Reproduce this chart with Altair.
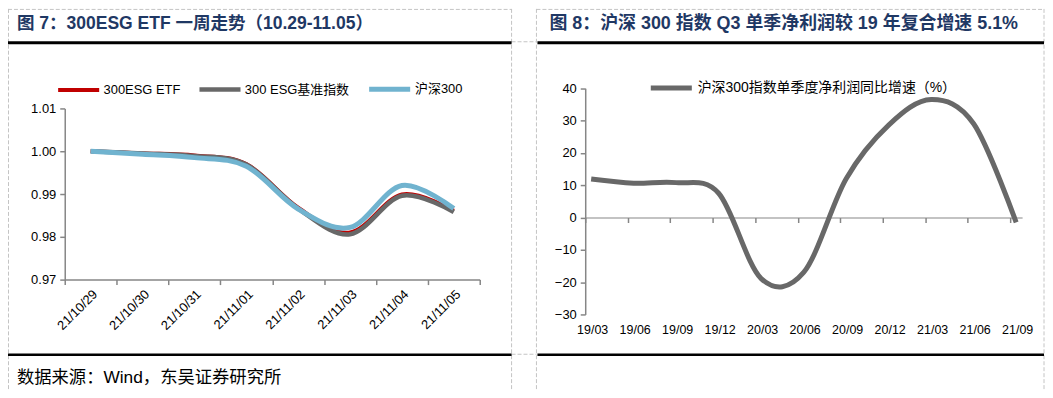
import altair as alt
import pandas as pd

# ---------------- data ----------------
dates = ["21/10/29", "21/10/30", "21/10/31", "21/11/01",
         "21/11/02", "21/11/03", "21/11/04", "21/11/05"]
etf = [1.0000, 0.9995, 0.9990, 0.9970, 0.9868, 0.9810, 0.9899, 0.9861]
esg_index = [1.0000, 0.9995, 0.9989, 0.9969, 0.9866, 0.9806, 0.9896, 0.9858]
hs300 = [1.0000, 0.9993, 0.9985, 0.9965, 0.9865, 0.9822, 0.9920, 0.9866]
left_series = ["300ESG ETF", "300 ESG基准指数", "沪深300"]
left_ticks = [0.97, 0.98, 0.99, 1.00, 1.01]

quarters = ["19/03", "19/06", "19/09", "19/12", "20/03", "20/06",
            "20/09", "20/12", "21/03", "21/06", "21/09"]
growth = [11.9, 10.6, 10.8, 7.5, -18.9, -17.0, 12.0, 28.6, 36.5, 29.0, -1.5]
right_series = "沪深300指数单季度净利润同比增速（%）"
right_ticks = [-30, -20, -10, 0, 10, 20, 30, 40]

title_left = "图 7：300ESG ETF 一周走势（10.29-11.05）"
title_right = "图 8：沪深 300 指数 Q3 单季净利润较 19 年复合增速 5.1%"
source_text = "数据来源：Wind，东吴证券研究所"

# ---------------- styles ----------------
W, H = 1042, 382
FONT = "Liberation Sans, Arial, Noto Sans CJK SC, sans-serif"
NAVY = "#1F3864"
GREY_AXIS = "#868686"
DASH_COLOR = "#C4C4C4"
left_colors = ["#C00000", "#686868", "#70B3CF"]
left_widths = [4, 5, 4.5]

left_df = pd.DataFrame({
    "date": dates * 3,
    "series": [s for s in left_series for _ in dates],
    "value": etf + esg_index + hs300,
})
right_df = pd.DataFrame({"quarter": quarters, "growth": growth,
                         "series": [right_series] * len(quarters)})

axis_common = dict(title=None, grid=False, domainColor=GREY_AXIS, tickColor=GREY_AXIS,
                   labelColor="#000000", labelFont=FONT)

left = alt.Chart(left_df).mark_line(interpolate="cardinal").encode(
    x=alt.X("date:O", sort=dates,
            scale=alt.Scale(type="band", domain=dates, range=[57, 474],
                            paddingInner=0, paddingOuter=0),
            axis=alt.Axis(orient="bottom", offset=-110, tickBand="extent", tickSize=5,
                          domainWidth=1.5, tickWidth=1.5, labelAngle=-45, labelFontSize=13,
                          labelPadding=3, **axis_common)),
    y=alt.Y("value:Q",
            scale=alt.Scale(domain=[0.97, 1.01], range=[272, 100], zero=False, nice=False),
            axis=alt.Axis(orient="left", offset=-57, values=left_ticks, format=".2f",
                          tickSize=5, domainWidth=1.5, tickWidth=1.5, labelFontSize=13,
                          labelPadding=4, **axis_common)),
    color=alt.Color("series:N",
                    scale=alt.Scale(domain=left_series, range=left_colors),
                    legend=alt.Legend(orient="none", legendX=48, legendY=57,
                                      direction="horizontal", title=None,
                                      symbolType="stroke", symbolSize=1700,
                                      symbolStrokeWidth=5, labelFont=FONT,
                                      labelFontSize=13, labelColor="#000000",
                                      labelOffset=2, columnPadding=9, labelLimit=400)),
    strokeWidth=alt.StrokeWidth("series:N",
                                scale=alt.Scale(domain=left_series, range=left_widths),
                                legend=None),
)

right = alt.Chart(right_df).mark_line(interpolate="cardinal", strokeWidth=5).encode(
    x=alt.X("quarter:O", sort=quarters,
            scale=alt.Scale(type="point", domain=quarters, range=[580, 1019], padding=0.14),
            axis=alt.Axis(orient="bottom", offset=-172.4, tickSize=5, tickOffset=-6,
                          labelOffset=7, labelPadding=102, labelAngle=0, labelFontSize=12.5,
                          domainWidth=1, tickWidth=1.5, **axis_common)),
    y=alt.Y("growth:Q",
            scale=alt.Scale(domain=[-30, 40], range=[307, 79.7], zero=False, nice=False),
            axis=alt.Axis(orient="left", offset=-580, values=right_ticks, tickSize=5,
                          domainWidth=1.5, tickWidth=1.5, labelFontSize=13, labelPadding=4,
                          **axis_common)),
    color=alt.Color("series:N",
                    scale=alt.Scale(domain=[right_series], range=["#686868"]),
                    legend=alt.Legend(orient="none", legendX=643, legendY=56,
                                      direction="horizontal", title=None,
                                      symbolType="stroke", symbolSize=1700,
                                      symbolStrokeWidth=5, labelFont=FONT,
                                      labelFontSize=14, labelColor="#000000",
                                      labelOffset=3, labelLimit=600)),
)


def hline(x1, x2, y, color, width, dash=None):
    kw = dict(color=color, strokeWidth=width)
    if dash:
        kw["strokeDash"] = dash
    return alt.Chart().mark_rule(**kw).encode(
        x=alt.value(x1), x2=alt.value(x2), y=alt.value(y))


def vline(x, y1, y2, color, width, dash=None):
    kw = dict(color=color, strokeWidth=width)
    if dash:
        kw["strokeDash"] = dash
    return alt.Chart().mark_rule(**kw).encode(
        x=alt.value(x), y=alt.value(y1), y2=alt.value(y2))


def label(txt, x, y, size, weight="normal", color="#000000"):
    return alt.Chart().mark_text(text=txt, align="left", baseline="alphabetic",
                                 font=FONT, fontSize=size, fontWeight=weight,
                                 color=color).encode(x=alt.value(x), y=alt.value(y))


D = [4, 2]
decor = [
    # dashed frame
    hline(0, 506, 0.5, DASH_COLOR, 1, D),
    hline(531, 1041, 0.5, DASH_COLOR, 1, D),
    hline(506, 531, 33, DASH_COLOR, 1, D),
    hline(506, 531, 347, DASH_COLOR, 1, D),
    vline(0.5, 0, H, DASH_COLOR, 1, D),
    vline(506, 0, H, DASH_COLOR, 1, D),
    vline(531, 0, H, DASH_COLOR, 1, D),
    vline(1041, 0, H, DASH_COLOR, 1, D),
    # black rules
    hline(0, 506, 34, "#000000", 3),
    hline(532, 1041, 34, "#000000", 3),
    hline(0, 506, 347.5, "#000000", 2.5),
    hline(532, 1041, 347.5, "#000000", 2.5),
    # texts
    label(title_left, 9, 20.5, 17.6, "bold", NAVY),
    label(title_right, 544, 20.5, 18, "bold", NAVY),
    label(source_text, 9, 376, 17.4),
]

chart = alt.layer(left, right, *decor).resolve_scale(
    x="independent", y="independent", color="independent", strokeWidth="independent"
).properties(
    width=W, height=H,
    autosize=alt.AutoSizeParams(type="none"),
    padding=0,
).configure_view(stroke="transparent")

chart.save("out.html", embed_options={"renderer": "svg", "actions": False})
